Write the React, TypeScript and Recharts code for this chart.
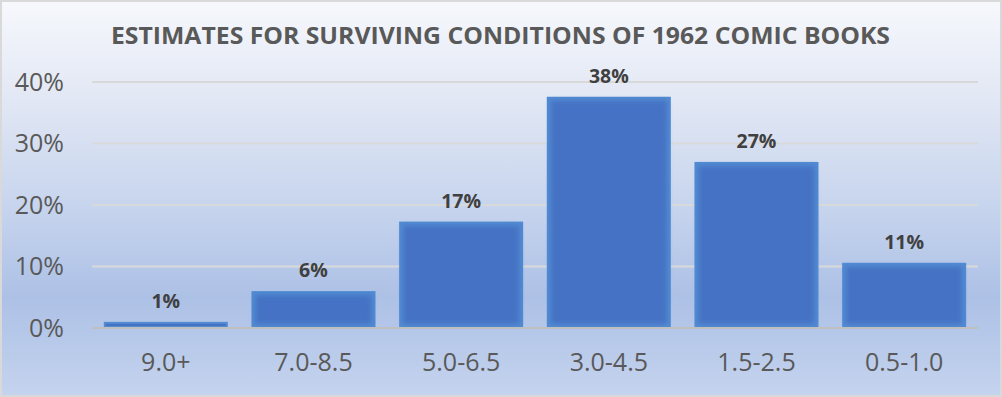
import { BarChart, Bar, XAxis, YAxis, CartesianGrid, LabelList } from "recharts";

const grades = ["9.0+", "7.0-8.5", "5.0-6.5", "3.0-4.5", "1.5-2.5", "0.5-1.0"];
const shares = [1.0, 6.0, 17.3, 37.6, 27.0, 10.6];
const yTicks = [0, 10, 20, 30, 40];

const TITLE = "ESTIMATES FOR SURVIVING CONDITIONS OF 1962 COMIC BOOKS";
const FONT = "'Open Sans', 'Noto Sans', sans-serif";

const data = grades.map((g, i) => ({ grade: g, share: shares[i] }));

// bar with a lighter edge glow like the Excel preset
function GlowBar(props: any) {
  const { x, y, width, height } = props;
  if (!height || height <= 0) return null;
  const inset = Math.min(4, height / 3);
  return (
    <g>
      <rect x={x} y={y} width={width} height={height} fill="#528bd2" />
      <rect
        x={x + inset}
        y={y + inset}
        width={Math.max(0, width - inset * 2)}
        height={Math.max(0, height - inset * 2)}
        fill="#4472c4"
        filter={height > 12 ? "url(#barBlur)" : undefined}
      />
    </g>
  );
}

export default function App() {
  return (
    <div
      style={{
        position: "absolute",
        left: 0,
        top: 0,
        width: 1002,
        height: 397,
        boxSizing: "border-box",
        border: "2px solid #d9d9d9",
        background:
          "linear-gradient(180deg, #f6f8fc 0%, #e4e9f5 22%, #c9d6ee 50%, #adc1e6 75%, #c4d3ee 100%)",
        overflow: "hidden",
      }}
    >
      <svg
        width={1002}
        height={60}
        style={{ position: "absolute", left: -2, top: -2 }}
      >
        <text
          x={111}
          y={44}
          textLength={779}
          lengthAdjust="spacingAndGlyphs"
          fontFamily={FONT}
          fontWeight={700}
          fontSize={23}
          fill="#595959"
        >
          {TITLE}
        </text>
      </svg>
      <div style={{ position: "absolute", left: -2, top: -2 }}>
        <BarChart
          width={1002}
          height={397}
          data={data}
          margin={{ top: 82, right: 24, bottom: 0, left: 0 }}
          barCategoryGap="8%"
        >
          <defs>
            <filter id="barBlur" x="-10%" y="-10%" width="120%" height="120%">
              <feGaussianBlur stdDeviation="2.5" />
            </filter>
          </defs>
          <CartesianGrid
            vertical={false}
            stroke="#d9d9d9"
            strokeWidth={2}
          />
          <XAxis
            dataKey="grade"
            height={69}
            axisLine={{ stroke: "#bfbfbf", strokeWidth: 2 }}
            tickLine={false}
            tickMargin={19}
            tick={{ fontSize: 25, fill: "#595959", fontFamily: FONT }}
          />
          <YAxis
            width={92}
            domain={[0, 40]}
            ticks={yTicks}
            axisLine={false}
            tickLine={false}
            tickMargin={22}
            tickFormatter={(v) => `${v}%`}
            tick={{ fontSize: 25, fill: "#595959", fontFamily: FONT }}
          />
          <Bar dataKey="share" shape={<GlowBar />} isAnimationActive={false}>
            <LabelList
              dataKey="share"
              position="top"
              offset={14}
              formatter={(v: any) => `${Math.round(Number(v))}%`}
              style={{
                fontSize: 19.5,
                fontWeight: 700,
                fill: "#404040",
                fontFamily: FONT,
              }}
            />
          </Bar>
        </BarChart>
      </div>
    </div>
  );
}
